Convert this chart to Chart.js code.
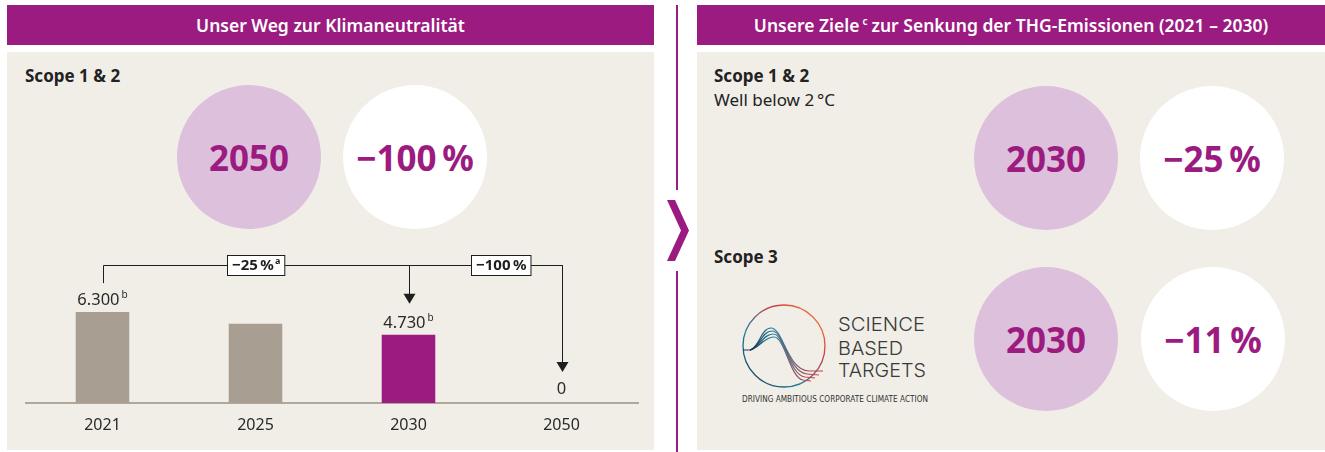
<!DOCTYPE html>
<html lang="de">
<head>
<meta charset="utf-8">
<script src="https://cdn.jsdelivr.net/npm/chart.js@4.4.0/dist/chart.umd.min.js"></script>
<style>
  body { margin: 0; width: 1325px; height: 452px; background: #fff; position: relative; overflow: hidden;
         font-family: 'Noto Sans', 'Open Sans', sans-serif; color: #222; }
  .abs { position: absolute; }
  .head { top: 5px; height: 40px; background: #9b1b80; color: #fff; font-weight: 600; font-size: 17.5px;
          line-height: 40px; text-align: center; white-space: nowrap; }
  .head sup { font-size: 10px; vertical-align: 7px; line-height: 0; margin: 0 4px 0 3px; }
  .panel { top: 52px; height: 398px; background: #f1eee8; }
  .circle { width: 144px; height: 144px; border-radius: 50%; display: flex; align-items: center;
            justify-content: center; color: #9b1b80; font-weight: 700; font-size: 35px; }
  .lilac { background: #ddc0dc; }
  .white { background: #fff; }
  .txt { font-size: 17px; line-height: 20px; white-space: nowrap; }
  .bold { font-weight: 700; }
  .vline { left: 676px; width: 2px; background: #9b1b80; }
</style>
</head>
<body>
<!-- left side -->
<div class="abs head" style="left:7px; width:647px;">Unser Weg zur Klimaneutralität</div>
<div class="abs panel" style="left:7px; width:647px;"></div>
<div class="abs txt bold" style="left:25px; top:66px;">Scope 1 &amp; 2</div>
<div class="abs circle lilac" style="left:177px; top:85px;">2050</div>
<div class="abs circle white" style="left:343px; top:85px;">−100&#8239;%</div>

<!-- divider -->
<div class="abs vline" style="top:5px; height:185px;"></div>
<div class="abs vline" style="top:271px; height:181px;"></div>
<svg class="abs" style="left:660px; top:195px;" width="36" height="72">
  <polygon points="7,5 15,5 29,35.5 15,66 7,66 21,35.5" fill="#9b1b80"/>
</svg>

<!-- right side -->
<div class="abs head" style="left:697px; width:628px;">Unsere Ziele<sup>c</sup>zur Senkung der THG-Emissionen (2021 – 2030)</div>
<div class="abs panel" style="left:697px; width:628px;"></div>
<div class="abs txt bold" style="left:714px; top:66px;">Scope 1 &amp; 2</div>
<div class="abs txt" style="left:714px; top:90px;">Well below 2&#8239;°C</div>
<div class="abs txt bold" style="left:714px; top:247px;">Scope 3</div>
<div class="abs circle lilac" style="left:974px; top:86px;">2030</div>
<div class="abs circle white" style="left:1140px; top:86px;">−25&#8239;%</div>
<div class="abs circle lilac" style="left:974px; top:267px;">2030</div>
<div class="abs circle white" style="left:1141px; top:267px;">−11&#8239;%</div>

<!-- SBTi logo -->
<svg class="abs" style="left:735px; top:295px;" width="200" height="115">
  <defs>
    <linearGradient id="ring" x1="0" y1="1" x2="1" y2="0">
      <stop offset="0" stop-color="#1c2f4f"/>
      <stop offset="0.35" stop-color="#1f7f9c"/>
      <stop offset="0.7" stop-color="#d63b3f"/>
      <stop offset="1" stop-color="#f3a132"/>
    </linearGradient>
    <linearGradient id="wave" x1="0" y1="0" x2="1" y2="0">
      <stop offset="0" stop-color="#1c2f4f"/>
      <stop offset="0.35" stop-color="#1f7f9c"/>
      <stop offset="1" stop-color="#d63b3f"/>
    </linearGradient>
  </defs>
  <circle cx="49" cy="51" r="41" fill="none" stroke="url(#ring)" stroke-width="1.3"/>
  <g fill="none" stroke="url(#wave)" stroke-width="1.2">
    <path d="M8,55 L15,55 C24,53 26,33 36,33 C48,33 52,75 74,76 L88,76"/>
    <path d="M15,55 C24,53 27,36 37,36 C49,36 53,77 72,79 L84,80"/>
    <path d="M15,55 C24,53 28,39 38,39 C50,39 54,80 70,82 L80,83"/>
    <path d="M15,55 C24,53 29,42 39,42 C50,42 55,83 68,85 L76,86"/>
  </g>
  <g fill="#3a3a3a" font-family="Inter, 'DejaVu Sans', sans-serif" font-weight="300" font-size="19">
    <text x="103" y="36" textLength="87" lengthAdjust="spacingAndGlyphs">SCIENCE</text>
    <text x="103" y="60" textLength="65" lengthAdjust="spacingAndGlyphs">BASED</text>
    <text x="103" y="82" textLength="88" lengthAdjust="spacingAndGlyphs">TARGETS</text>
  </g>
  <text x="7" y="107" fill="#333" font-family="'DejaVu Sans', sans-serif" font-size="8"
        textLength="186" lengthAdjust="spacingAndGlyphs">DRIVING AMBITIOUS CORPORATE CLIMATE ACTION</text>
</svg>

<canvas id="emChart" class="abs" style="left:0; top:0;" width="660" height="452"></canvas>

<script>
// Scope 1 & 2 emissions path (t CO2e)
const years = ['2021', '2025', '2030', '2050'];
const emissions = [6300, 5500, 4730, 0];
const valueLabels = ['6.300', '', '4.730', '0'];
const footnotes = ['b', '', 'b', ''];

// reduction brackets: from year index -> to year index
const reductions = [
    { from: 0, to: 2, text: '−25\u202F%', note: 'a', at: 1 },
    { from: 2, to: 3, text: '−100\u202F%', note: '', at: 2.6 }
];

const purple = '#9b1b80';
const grey = '#a89e91';
const font = "'Noto Sans', 'Open Sans', sans-serif";

// value labels with superscript footnote
const valueLabelPlugin = {
    id: 'valueLabels',
    afterDatasetsDraw(chart) {
        const ctx = chart.ctx;
        const meta = chart.getDatasetMeta(0);
        ctx.save();
        ctx.fillStyle = '#2a2a2a';
        ctx.textBaseline = 'alphabetic';
        meta.data.forEach((bar, i) => {
            if (!valueLabels[i]) return;
            ctx.font = '16.5px ' + font;
            const w = ctx.measureText(valueLabels[i]).width;
            ctx.font = '10px ' + font;
            const ws = footnotes[i] ? ctx.measureText(footnotes[i]).width + 2 : 0;
            const x0 = bar.x - (w + ws) / 2;
            const y = bar.y - (emissions[i] ? 7 : 9);
            ctx.font = '16.5px ' + font;
            ctx.textAlign = 'left';
            ctx.fillText(valueLabels[i], x0, y);
            if (footnotes[i]) {
                ctx.font = '10px ' + font;
                ctx.fillText(footnotes[i], x0 + w + 2, y - 7);
            }
        });
        ctx.restore();
    }
};

// bracket lines with arrows and boxed percentages
const bracketPlugin = {
    id: 'brackets',
    afterDatasetsDraw(chart) {
        const ctx = chart.ctx;
        const xs = chart.scales.x;
        const meta = chart.getDatasetMeta(0);
        const lineY = chart.chartArea.top + 64;
        ctx.save();
        ctx.strokeStyle = '#1e1e1e';
        ctx.fillStyle = '#1e1e1e';
        ctx.lineWidth = 1;
        const first = xs.getPixelForValue(reductions[0].from);
        const last = xs.getPixelForValue(reductions[reductions.length - 1].to);
        ctx.beginPath();
        ctx.moveTo(Math.round(first) + 0.5, meta.data[0].y - 29);
        ctx.lineTo(Math.round(first) + 0.5, lineY + 0.5);
        ctx.lineTo(Math.round(last) + 0.5, lineY + 0.5);
        ctx.stroke();
        reductions.forEach(r => {
            const x = Math.round(xs.getPixelForValue(r.to)) + 0.5;
            const tip = meta.data[r.to].y - 31;
            ctx.beginPath();
            ctx.moveTo(x, lineY);
            ctx.lineTo(x, tip - 9);
            ctx.stroke();
            ctx.beginPath();
            ctx.moveTo(x - 6, tip - 10);
            ctx.lineTo(x + 6, tip - 10);
            ctx.lineTo(x, tip);
            ctx.closePath();
            ctx.fill();
        });
        reductions.forEach(r => {
            const cx = xs.getPixelForValue(r.at);
            ctx.font = 'bold 15px ' + font;
            const w = ctx.measureText(r.text).width;
            ctx.font = 'bold 9px ' + font;
            const wn = r.note ? ctx.measureText(r.note).width + 1 : 0;
            const bw = w + wn + 9;
            const bx = Math.round(cx - bw / 2) + 0.5;
            ctx.fillStyle = '#fff';
            ctx.fillRect(bx, lineY - 9.5, bw, 20);
            ctx.strokeRect(bx, lineY - 9.5, bw, 20);
            ctx.fillStyle = '#1e1e1e';
            ctx.textBaseline = 'middle';
            ctx.textAlign = 'left';
            ctx.font = 'bold 15px ' + font;
            ctx.fillText(r.text, bx + 4.5, lineY + 1);
            if (r.note) {
                ctx.font = 'bold 9px ' + font;
                ctx.fillText(r.note, bx + 4.5 + w + 1, lineY - 4);
            }
        });
        ctx.restore();
    }
};

new Chart(document.getElementById('emChart').getContext('2d'), {
    type: 'bar',
    data: {
        labels: years,
        datasets: [{
            data: emissions,
            backgroundColor: [grey, grey, purple, grey],
            barPercentage: 0.7,
            categoryPercentage: 0.5
        }]
    },
    options: {
        responsive: false,
        animation: false,
        layout: { padding: { left: 26, right: 22, top: 201, bottom: 0 } },
        plugins: { legend: { display: false }, tooltip: { enabled: false } },
        scales: {
            x: {
                grid: { display: false, drawTicks: false },
                border: { display: true, color: '#b0a79c', width: 2 },
                ticks: { color: '#2a2a2a', font: { family: font, size: 16 }, padding: 13 },
                afterFit: s => { s.height = 49; }
            },
            y: { display: false, min: 0, max: 14000 }
        }
    },
    plugins: [valueLabelPlugin, bracketPlugin]
});
</script>
</body>
</html>
